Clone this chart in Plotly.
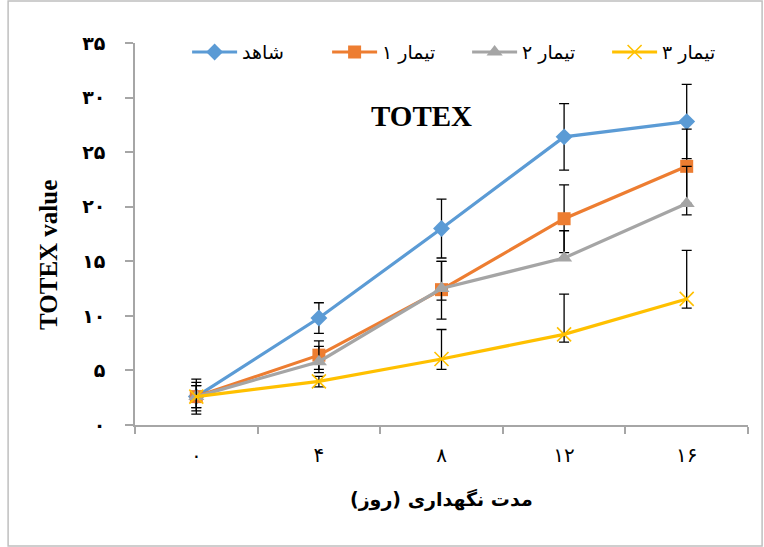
import plotly.graph_objects as go

# Storage days (Persian digits) and TOTEX values per treatment
days = ["۰", "۴", "۸", "۱۲", "۱۶"]
y_ticks = [0, 5, 10, 15, 20, 25, 30, 35]
y_tick_text = ["۰", "۵", "۱۰", "۱۵", "۲۰", "۲۵", "۳۰", "۳۵"]

names = ["شاهد", "تیمار ۱", "تیمار ۲", "تیمار ۳"]
control = [2.6, 9.8, 18.0, 26.4, 27.8]
treat1 = [2.6, 6.4, 12.4, 18.9, 23.7]
treat2 = [2.6, 5.8, 12.5, 15.3, 20.3]
treat3 = [2.6, 4.0, 6.05, 8.3, 11.55]

control_err_plus = [1.6, 1.4, 2.7, 3.05, 3.4]
control_err_minus = [1.6, 1.4, 2.7, 3.05, 3.4]
treat1_err_plus = [1.3, 1.3, 2.6, 3.1, 3.4]
treat1_err_minus = [1.3, 1.3, 2.7, 3.1, 3.4]
treat2_err_plus = [1.0, 1.4, 2.5, 2.5, 3.4]
treat2_err_minus = [1.0, 1.0, 1.05, 0.0, 1.05]
treat3_err_plus = [1.0, 0.45, 2.7, 3.7, 4.45]
treat3_err_minus = [1.0, 0.5, 0.95, 0.7, 0.85]

series = [
    (names[0], control, control_err_plus, control_err_minus, "#5B9BD5",
     dict(symbol="diamond", size=13)),
    (names[1], treat1, treat1_err_plus, treat1_err_minus, "#ED7D31",
     dict(symbol="square", size=13)),
    (names[2], treat2, treat2_err_plus, treat2_err_minus, "#A5A5A5",
     dict(symbol="triangle-up", size=14)),
    (names[3], treat3, treat3_err_plus, treat3_err_minus, "#FFC000",
     dict(symbol="x-thin-open", size=14, line=dict(width=1.6, color="#FFC000"))),
]

fig = go.Figure()
for name, vals, ep, em, color, marker in series:
    fig.add_trace(go.Scatter(
        x=days, y=vals, name=name, mode="lines+markers",
        line=dict(color=color, width=3.2),
        marker=dict(color=color, **marker),
        error_y=dict(type="data", symmetric=False, array=ep, arrayminus=em,
                     color="black", thickness=1.3, width=5),
    ))

axis_gray = "#A6A6A6"
fig.update_layout(
    width=764, height=547,
    margin=dict(l=135, r=16, t=43, b=122),
    paper_bgcolor="white", plot_bgcolor="white",
    showlegend=True,
    legend=dict(orientation="h", x=0.085, y=0.976, xanchor="left", yanchor="middle",
                font=dict(family="DejaVu Sans", size=19, color="black"),
                itemwidth=45, entrywidth=80, tracegroupgap=0,
                bgcolor="rgba(0,0,0,0)"),
    xaxis=dict(type="category", range=[-0.5, 4.5], tickson="boundaries",
               ticks="outside", ticklen=7, tickcolor=axis_gray, tickwidth=1.5,
               showline=True, linecolor=axis_gray, linewidth=1.5,
               showgrid=False, zeroline=False, ticklabelstandoff=11,
               tickfont=dict(family="DejaVu Sans", size=20, color="black")),
    yaxis=dict(range=[0, 35], tickvals=y_ticks, ticktext=y_tick_text,
               ticks="outside", ticklen=8, tickcolor=axis_gray, tickwidth=1.5,
               showline=True, linecolor=axis_gray, linewidth=1.5,
               showgrid=False, zeroline=False, ticklabelstandoff=16,
               tickfont=dict(family="DejaVu Sans", size=19, color="black", weight="bold")),
    annotations=[
        dict(text="TOTEX", xref="paper", yref="paper", x=0.467, y=0.81,
             showarrow=False, xanchor="center", yanchor="middle",
             font=dict(family="Liberation Serif", size=29, color="black", weight="bold")),
        dict(text="TOTEX value", xref="paper", yref="paper", x=-0.142, y=0.445,
             textangle=-90, showarrow=False, xanchor="center", yanchor="middle",
             font=dict(family="Liberation Serif", size=25, color="black", weight="bold")),
        dict(text="مدت نگهداری (روز)", xref="paper", yref="paper", x=0.5, y=-0.196,
             showarrow=False, xanchor="center", yanchor="middle",
             font=dict(family="DejaVu Sans", size=19, color="black", weight="bold")),
    ],
    shapes=[
        dict(type="rect", xref="paper", yref="paper",
             x0=-0.207, x1=1.023, y0=-0.317, y1=1.11,
             line=dict(color="#BFBFBF", width=1.5), fillcolor="rgba(0,0,0,0)"),
    ],
)

fig.write_html("out.html")
